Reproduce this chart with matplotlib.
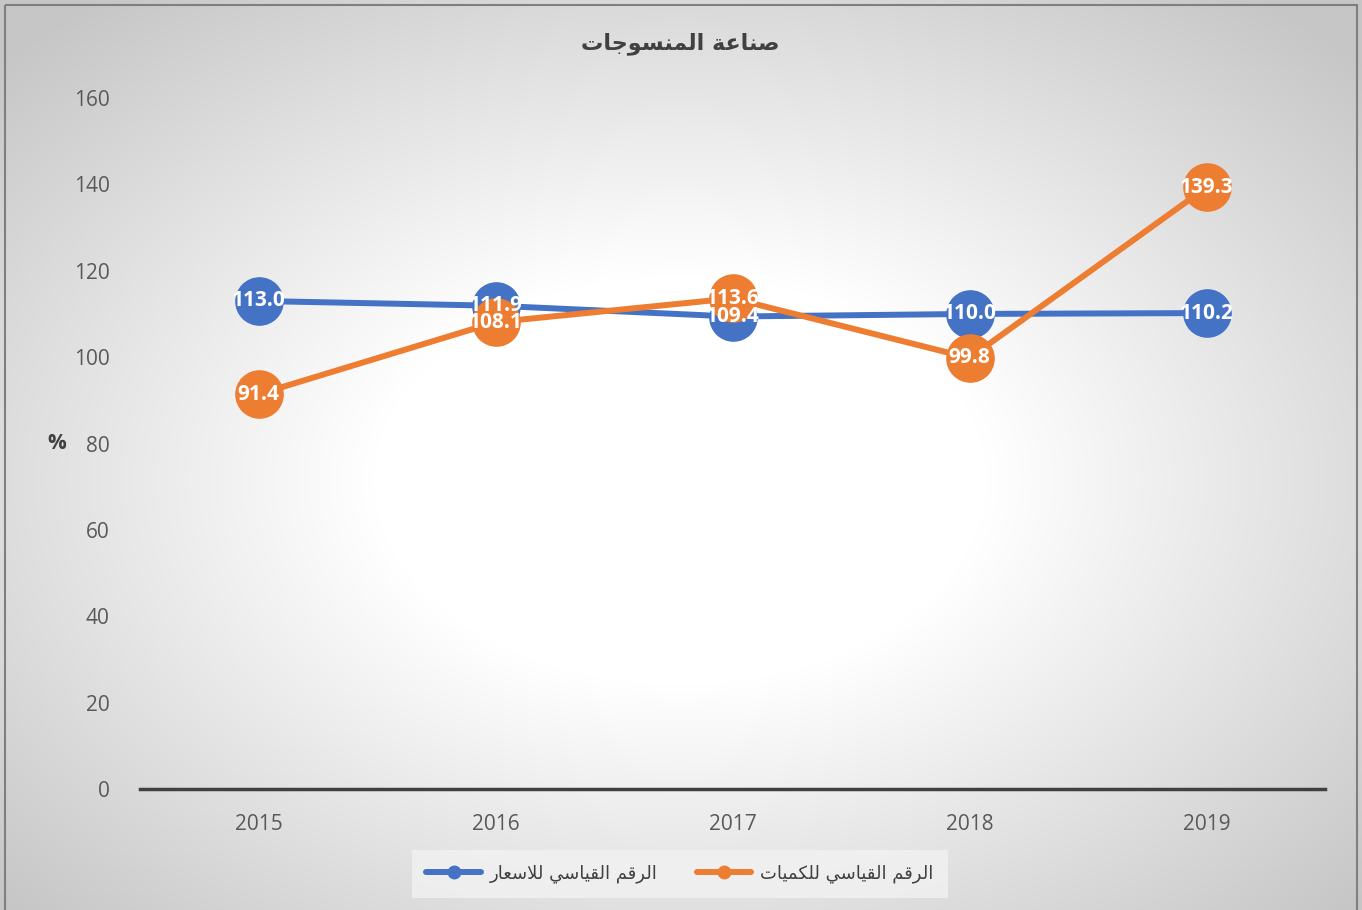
import numpy as np
import matplotlib.pyplot as plt
from matplotlib.lines import Line2D
from matplotlib.patches import Rectangle

# data
years = ['2015', '2016', '2017', '2018', '2019']
price_index = [113.0, 111.9, 109.4, 110.0, 110.2]
quantity_index = [91.4, 108.1, 113.6, 99.8, 139.3]

title_ar = 'صناعة المنسوجات'
price_name = 'الرقم القياسي للاسعار'
qty_name = 'الرقم القياسي للكميات'

BLUE = '#4472c4'
ORANGE = '#ed7d31'

# arabic presentation forms: (isolated, final, initial, medial)
FORMS = {
    'ا': ('\uFE8D', '\uFE8E', None, None),
    'ة': ('\uFE93', '\uFE94', None, None),
    'ت': ('\uFE95', '\uFE96', '\uFE97', '\uFE98'),
    'ج': ('\uFE9D', '\uFE9E', '\uFE9F', '\uFEA0'),
    'ر': ('\uFEAD', '\uFEAE', None, None),
    'س': ('\uFEB1', '\uFEB2', '\uFEB3', '\uFEB4'),
    'ص': ('\uFEB9', '\uFEBA', '\uFEBB', '\uFEBC'),
    'ع': ('\uFEC9', '\uFECA', '\uFECB', '\uFECC'),
    'ق': ('\uFED5', '\uFED6', '\uFED7', '\uFED8'),
    'ك': ('\uFED9', '\uFEDA', '\uFEDB', '\uFEDC'),
    'ل': ('\uFEDD', '\uFEDE', '\uFEDF', '\uFEE0'),
    'م': ('\uFEE1', '\uFEE2', '\uFEE3', '\uFEE4'),
    'ن': ('\uFEE5', '\uFEE6', '\uFEE7', '\uFEE8'),
    'و': ('\uFEED', '\uFEEE', None, None),
    'ي': ('\uFEF1', '\uFEF2', '\uFEF3', '\uFEF4'),
}


def shape(text):
    # join letters and put them in visual (left to right) order
    tokens = []
    i = 0
    while i < len(text):
        if text[i] == 'ل' and i + 1 < len(text) and text[i + 1] == 'ا':
            tokens.append('LA')
            i += 2
        else:
            tokens.append(text[i])
            i += 1

    def dual(t):
        return t in FORMS and FORMS[t][2] is not None

    out = []
    for k, t in enumerate(tokens):
        prev = tokens[k - 1] if k > 0 else None
        nxt = tokens[k + 1] if k + 1 < len(tokens) else None
        if t == 'LA':
            out.append('\uFEFC' if prev is not None and dual(prev) else '\uFEFB')
            continue
        if t not in FORMS:
            out.append(t)
            continue
        p = prev is not None and dual(prev)
        n = nxt is not None and (nxt in FORMS or nxt == 'LA') and dual(t)
        iso, fin, ini, med = FORMS[t]
        if p and n:
            out.append(med)
        elif p:
            out.append(fin)
        elif n:
            out.append(ini)
        else:
            out.append(iso)
    return ''.join(reversed(out))


plt.rcParams['font.family'] = ['Open Sans', 'DejaVu Sans']

fig = plt.figure(figsize=(13.62, 9.10), dpi=100)

# radial gradient background
bg = fig.add_axes([0, 0, 1, 1], zorder=-5)
H, W = 910, 1362
yy, xx = np.mgrid[0:H, 0:W]
dx = (xx - 680) / (W / 2)
dy = (yy - 480) / (H / 2)
r = np.sqrt(dx ** 2 + dy ** 2)
v = 1 - 0.22 * np.clip((r - 0.45) / 0.9, 0, 1)
bg.imshow(np.dstack([v, v, v]), aspect='auto', extent=[0, W, H, 0])
bg.set_xlim(0, W)
bg.set_ylim(H, 0)
bg.axis('off')
bg.add_patch(Rectangle((5, 5), 1352, 910, fill=False, edgecolor='#7f7f7f', lw=1.5))

ax = fig.add_axes([140 / 1362, 1 - 789 / 910, 1185 / 1362, 691 / 910])
ax.patch.set_alpha(0)

x = np.arange(len(years))
ax.plot(x, price_index, color=BLUE, lw=4.3, marker='o', markersize=34,
        solid_capstyle='round', zorder=3)
ax.plot(x, quantity_index, color=ORANGE, lw=4.3, marker='o', markersize=34,
        solid_capstyle='round', zorder=4)

for xi, v1, v2 in zip(x, price_index, quantity_index):
    ax.text(xi, v1, f'{v1:.1f}', color='white', fontsize=15, fontweight='bold',
            ha='center', va='center', zorder=6)
    ax.text(xi, v2, f'{v2:.1f}', color='white', fontsize=15, fontweight='bold',
            ha='center', va='center', zorder=7)

ax.set_xlim(-0.5, len(years) - 0.5)
ax.set_ylim(0, 160)
ax.set_yticks(range(0, 161, 20))
ax.set_xticks(x)
ax.set_xticklabels(years)
ax.tick_params(axis='both', length=0, labelsize=15, labelcolor='#595959')
ax.tick_params(axis='y', pad=22)
ax.tick_params(axis='x', pad=18)
for s in ['top', 'right', 'left']:
    ax.spines[s].set_visible(False)
ax.spines['bottom'].set_color('#404040')
ax.spines['bottom'].set_linewidth(2.5)

fig.text(57 / 1362, 1 - 443 / 910, '%', fontsize=15, fontweight='bold',
         color='#404040', ha='center', va='center')

fig.text(680 / 1362, 1 - 44 / 910, shape(title_ar), fontsize=16, fontweight='bold',
         color='#404040', ha='center', va='center', family=['DejaVu Sans'])

handles = [
    Line2D([], [], color=BLUE, lw=4.3, marker='o', markersize=9, solid_capstyle='round'),
    Line2D([], [], color=ORANGE, lw=4.3, marker='o', markersize=9, solid_capstyle='round'),
]
leg = fig.legend(handles, [shape(price_name), shape(qty_name)], ncol=2,
                 loc='center', bbox_to_anchor=(680 / 1362, 1 - 874 / 910),
                 frameon=True, fancybox=False, handlelength=3.0, handletextpad=0.5,
                 columnspacing=2.2, prop={'family': 'DejaVu Sans', 'size': 13},
                 labelcolor='#404040', borderpad=0.8, borderaxespad=0)
leg.get_frame().set_facecolor('#f2f2f2')
leg.get_frame().set_edgecolor('none')
leg.get_frame().set_alpha(0.8)

fig.savefig('out.png', dpi=100)
